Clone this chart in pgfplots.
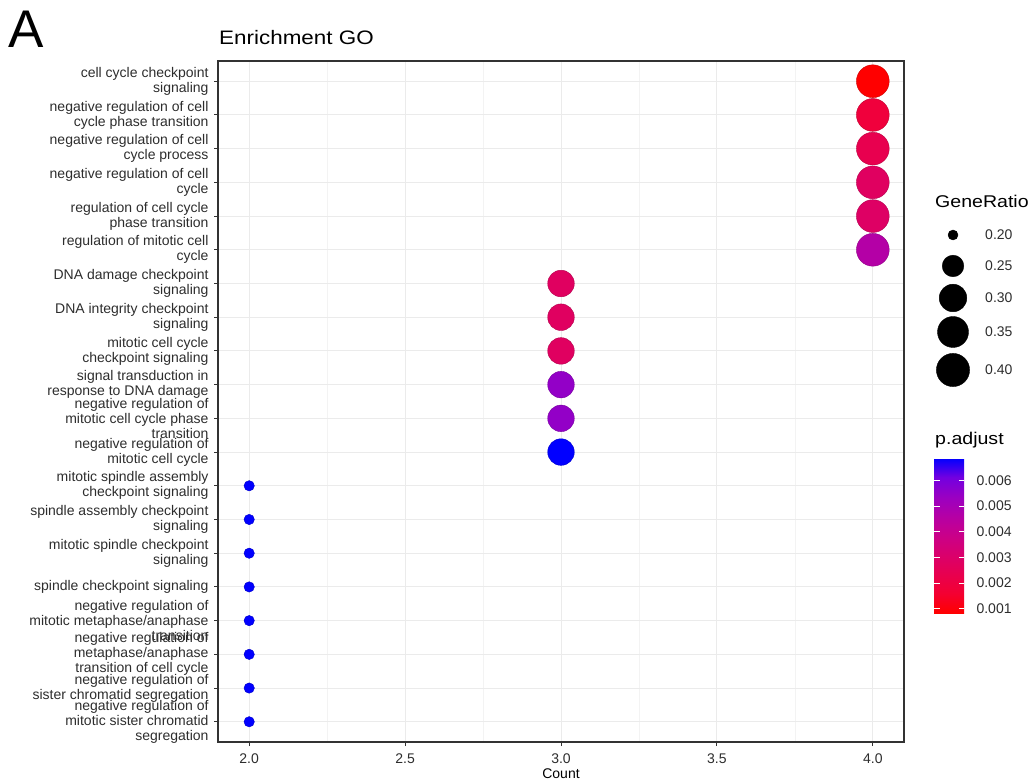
\documentclass[border=0pt]{standalone}
\usepackage{fontspec}
\setmainfont{Liberation Sans}
\usepackage{graphicx}
\usepackage{pgfplots}
\usepackage{pgfplotstable}
\pgfplotsset{compat=1.18}
\usetikzlibrary{calc}
\definecolor{gridc}{RGB}{235,235,235}
\definecolor{gridm}{RGB}{243,243,243}
\definecolor{bordc}{RGB}{51,51,51}
\definecolor{txtc}{RGB}{45,45,45}

\pgfplotstableread{
y x p
20 4 0.00083
19 4 0.00186
18 4 0.00234
17 4 0.00280
16 4 0.00290
15 4 0.00464
}\dataA
\pgfplotstableread{
y x p
14 3 0.00280
13 3 0.00280
12 3 0.00280
11 3 0.00550
10 3 0.00550
9 3 0.00688
}\dataB
\pgfplotstableread{
y x p
8 2 0.00688
7 2 0.00688
6 2 0.00688
5 2 0.00688
4 2 0.00688
3 2 0.00688
2 2 0.00688
1 2 0.00688
}\dataC

\begin{document}
\begin{tikzpicture}
\useasboundingbox (0,0) rectangle (1031pt,780pt);
\node[anchor=base west, inner sep=0pt, font=\fontsize{53}{60}\selectfont] at (8pt,732pt) {A};
\node[anchor=base west, inner sep=0pt, font=\fontsize{19.5}{22}\selectfont] at (219pt,735pt) {\scalebox{1.15}[1]{Enrichment GO}};
\begin{axis}[
  at={(218pt,38pt)}, anchor=south west,
  width=686pt, height=681pt, scale only axis,
  xmin=1.9, xmax=4.1, ymin=0.4, ymax=20.6,
  xtick={2,2.5,3,3.5,4}, minor x tick num=1,
  ytick={1,...,20},
  yticklabels={
    {negative regulation of\\mitotic sister chromatid\\segregation},
    {negative regulation of\\sister chromatid segregation},
    {negative regulation of\\metaphase/anaphase\\transition of cell cycle},
    {negative regulation of\\mitotic metaphase/anaphase\\transition},
    {spindle checkpoint signaling},
    {mitotic spindle checkpoint\\signaling},
    {spindle assembly checkpoint\\signaling},
    {mitotic spindle assembly\\checkpoint signaling},
    {negative regulation of\\mitotic cell cycle},
    {negative regulation of\\mitotic cell cycle phase\\transition},
    {signal transduction in\\response to DNA damage},
    {mitotic cell cycle\\checkpoint signaling},
    {DNA integrity checkpoint\\signaling},
    {DNA damage checkpoint\\signaling},
    {regulation of mitotic cell\\cycle},
    {regulation of cell cycle\\phase transition},
    {negative regulation of cell\\cycle},
    {negative regulation of cell\\cycle process},
    {negative regulation of cell\\cycle phase transition},
    {cell cycle checkpoint\\signaling}
  },
  /pgf/number format/assume math mode=true,
  xticklabel style={/pgf/number format/fixed, /pgf/number format/fixed zerofill, /pgf/number format/precision=1,
    font=\fontsize{14}{15}\selectfont, text=txtc, yshift=-4pt},
  yticklabel style={align=right, font=\fontsize{14}{15}\selectfont, text=txtc, xshift=-2pt},
  xlabel={Count},
  xlabel style={font=\fontsize{14}{15}\selectfont, at={(axis description cs:0.5,0)}, anchor=base, yshift=-36pt},
  xmajorgrids, xminorgrids, ymajorgrids,
  major grid style={color=gridc, line width=1pt},
  minor grid style={color=gridm, line width=0.6pt},
  axis line style={color=bordc, line width=1.1pt},
  tick align=outside, major tick length=4pt, minor tick length=0pt,
  tick style={color=bordc, line width=1pt},
  xtick pos=bottom, ytick pos=left,
  clip=false,
  colormap={rb}{rgb255=(255,0,0) rgb255=(244,0,49) rgb255=(232,0,79) rgb255=(218,0,108) rgb255=(202,0,137) rgb255=(181,0,165) rgb255=(154,0,194) rgb255=(115,0,224) rgb255=(0,0,255)},
  point meta min=0.00083, point meta max=0.00688,
  colorbar,
  colorbar/width=30pt,
  colorbar shift/.style={},
  colorbar style={
    at={($(parent axis.south east)+(30pt,129pt)$)}, anchor=south west,
    width=30pt, height=155pt, scale only axis,
    axis line style={draw=none},
    ytick={0.001,0.002,0.003,0.004,0.005,0.006},
    scaled y ticks=false,
    /pgf/number format/assume math mode=true,
    yticklabel style={/pgf/number format/fixed, /pgf/number format/fixed zerofill, /pgf/number format/precision=3,
      font=\fontsize{14}{15}\selectfont, text=txtc, xshift=9pt},
    ytick align=inside, major tick length=5.5pt,
    tick style={color=white, line width=1pt},
    ytick pos=both, yticklabel pos=right,
  },
]
\addplot[scatter, only marks, mark=*, mark size=16.4pt, point meta=explicit]
  table[x=x, y=y, meta=p] {\dataA};
\addplot[scatter, only marks, mark=*, mark size=13.3pt, point meta=explicit]
  table[x=x, y=y, meta=p] {\dataB};
\addplot[scatter, only marks, mark=*, mark size=5.2pt, point meta=explicit]
  table[x=x, y=y, meta=p] {\dataC};
\end{axis}
% size legend
\begin{axis}[
  at={(0pt,0pt)}, anchor=south west,
  width=1031pt, height=780pt, scale only axis,
  xmin=0, xmax=1031, ymin=0, ymax=780,
  hide axis, clip=false,
]
\addplot[only marks, mark=*, black, mark size=5.0pt] coordinates {(953,545)};
\addplot[only marks, mark=*, black, mark size=10.8pt] coordinates {(953,514)};
\addplot[only marks, mark=*, black, mark size=13.8pt] coordinates {(953,482)};
\addplot[only marks, mark=*, black, mark size=15.5pt] coordinates {(953,448)};
\addplot[only marks, mark=*, black, mark size=16.6pt] coordinates {(953,410)};
\node[anchor=base west, inner sep=0pt, font=\fontsize{17}{20}\selectfont] at (axis cs:935,572) {\scalebox{1.15}[1]{GeneRatio}};
\node[anchor=base west, inner sep=0pt, font=\fontsize{17}{20}\selectfont] at (axis cs:935,335) {\scalebox{1.15}[1]{p.adjust}};
\node[anchor=base west, inner sep=0pt, font=\fontsize{14}{15}\selectfont, text=txtc] at (axis cs:985,540) {0.20};
\node[anchor=base west, inner sep=0pt, font=\fontsize{14}{15}\selectfont, text=txtc] at (axis cs:985,509) {0.25};
\node[anchor=base west, inner sep=0pt, font=\fontsize{14}{15}\selectfont, text=txtc] at (axis cs:985,477) {0.30};
\node[anchor=base west, inner sep=0pt, font=\fontsize{14}{15}\selectfont, text=txtc] at (axis cs:985,443) {0.35};
\node[anchor=base west, inner sep=0pt, font=\fontsize{14}{15}\selectfont, text=txtc] at (axis cs:985,405) {0.40};
\end{axis}
\end{tikzpicture}
\end{document}
